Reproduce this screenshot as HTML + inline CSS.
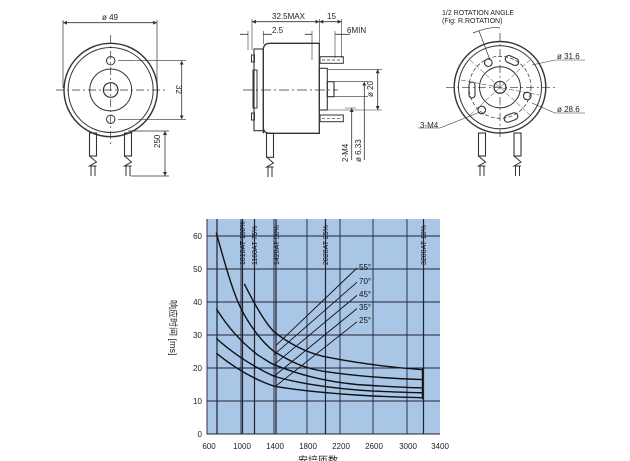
<!DOCTYPE html>
<html><head><meta charset="utf-8"><style>
body{margin:0;background:#fff;}
svg{display:block;font-family:"Liberation Sans","Noto Sans CJK SC",sans-serif;}
</style></head><body>
<svg width="630" height="461" viewBox="0 0 630 461" xmlns="http://www.w3.org/2000/svg">
<defs>
<marker id="a" viewBox="0 0 6 6" refX="6" refY="3" markerWidth="5" markerHeight="5" orient="auto-start-reverse"><path d="M0,0 L6,3 L0,6z" fill="#333"/></marker>
</defs>
<g stroke="#333" fill="none" stroke-width="1">
<!-- LEFT VIEW -->
<circle cx="110.7" cy="90" r="46.7" stroke-width="1.4"/>
<circle cx="110.7" cy="90" r="42.5"/>
<circle cx="110.7" cy="90" r="21"/>
<circle cx="110.7" cy="90" r="7.3" stroke-width="1.2"/>
<circle cx="110.7" cy="60.7" r="4.2"/>
<circle cx="110.7" cy="119.3" r="4.2"/>
<path d="M56,90H165M110.7,35V145" stroke-dasharray="8,3,2,3" stroke-width="0.7"/>
<path d="M63,20V88M157,20V88M118,60.7H186M118,119.3H186M128,131H169M131,176H169" stroke-width="0.7"/>
<path d="M63,22.7H157" marker-start="url(#a)" marker-end="url(#a)" stroke-width="0.8"/>
<path d="M181.7,60.7V119.3" marker-start="url(#a)" marker-end="url(#a)" stroke-width="0.8"/>
<path d="M165,131V176" marker-start="url(#a)" marker-end="url(#a)" stroke-width="0.8"/>
<rect x="89.5" y="133" width="7" height="23" stroke-width="1.1"/>
<rect x="124.5" y="133" width="7" height="23" stroke-width="1.1"/>
<path d="M89.5,156l7,6l-7,4l7,0M124.5,156l7,6l-7,4l7,0"/>
<path d="M91,166V176M95,166V176M126,166V176M130,166V176"/>
<!-- MIDDLE VIEW -->
<path d="M263.3,133.3V50Q263.3,43.3 270,43.3H319.3V133.3H270Q263.3,133.3 263.3,127z" stroke-width="1.3"/>
<rect x="254" y="49" width="9.3" height="81.7" stroke-width="1.1"/>
<rect x="253" y="70" width="4" height="38"/>
<rect x="251.5" y="55" width="3" height="7"/>
<rect x="251.5" y="113" width="3" height="7"/>
<rect x="319.3" y="68.3" width="8" height="41.7" stroke-width="1.1"/>
<rect x="327.3" y="81.7" width="6.7" height="15" stroke-width="1.1"/>
<rect x="320" y="56.7" width="23.3" height="6.6"/>
<rect x="320" y="115" width="23.3" height="6.7"/>
<path d="M322,60H342M322,118.3H342" stroke-dasharray="3,2" stroke-width="0.7"/>
<path d="M243,90H338" stroke-dasharray="10,3,2,3" stroke-width="0.7"/>
<path d="M252,19V50M319.3,19V44M341.5,19V58M248,31V50M263.3,31V44M335,31V58M312,31V60" stroke-width="0.6"/>
<path d="M252,21.7H319.3" marker-start="url(#a)" marker-end="url(#a)" stroke-width="0.8"/>
<path d="M319.3,21.7H341.5" marker-start="url(#a)" marker-end="url(#a)" stroke-width="0.8"/>
<path d="M240,34.3H248M263.3,34.3H272" stroke-width="0.8"/>
<path d="M305,34.3H312M335,34.3H350" stroke-width="0.8"/>
<path d="M328,69.3H382M334,81.7H368M334,96.7H368M328,110H382M345,108H356" stroke-width="0.6"/>
<path d="M377.7,69.3V110" marker-start="url(#a)" marker-end="url(#a)" stroke-width="0.8"/>
<path d="M364.3,81.7V160" marker-start="url(#a)" stroke-width="0.8"/>
<path d="M351.7,108V160" marker-start="url(#a)" stroke-width="0.8"/>
<rect x="266.5" y="133.3" width="7" height="24" stroke-width="1.1"/>
<path d="M266.5,157l7,6l-7,4l7,0M268,167V177M272,167V177"/>
<!-- RIGHT VIEW -->
<circle cx="500" cy="87.3" r="45.8" stroke-width="1.4"/>
<circle cx="500" cy="87.3" r="41.5"/>
<circle cx="500" cy="87.3" r="31" stroke-dasharray="4,2" stroke-width="0.7"/>
<circle cx="500" cy="87.3" r="20.5"/>
<circle cx="500" cy="87.3" r="6" stroke-width="1.2"/>
<path d="M446,87.3H556M500,33V140" stroke-dasharray="8,3,2,3" stroke-width="0.7"/>
<path d="M470,60L530,115M470,115L530,60M461,80L539,95" stroke-width="0.5" stroke-dasharray="5,2"/>
<g stroke-width="1.1">
<rect x="505" y="57" width="14" height="7" rx="3.5" transform="rotate(25 512 60.5)"/>
<rect x="469" y="82" width="6" height="16" rx="3"/>
<rect x="504" y="114" width="14" height="7" rx="3.5" transform="rotate(-20 511 117.5)"/>
<circle cx="488.3" cy="62.7" r="3.8"/>
<circle cx="527.3" cy="96" r="3.8"/>
<circle cx="481.7" cy="110" r="3.8"/>
</g>
<path d="M473,33Q490,26 500,28M479,31L490,60" stroke-width="0.7"/>
<path d="M555,60H585M532,65L555,60M555,113H585M532,103L555,113M418,128H440L480,112" stroke-width="0.6"/>
<rect x="478.5" y="133" width="7" height="23" stroke-width="1.1"/>
<rect x="514" y="133" width="7" height="23" stroke-width="1.1"/>
<path d="M478.5,156l7,6l-7,4l7,0M514,156l7,6l-7,4l7,0M480,166V176M484,166V176M515.5,166V176M519.5,166V176"/>
</g>
<g font-size="8" fill="#222">
<text x="102" y="20">ø 49</text>
<text x="272" y="19">32.5MAX</text>
<text x="327" y="19">15</text>
<text x="272" y="33">2.5</text>
<text x="347" y="33">6MIN</text>
<text x="442" y="15" font-size="7">1/2 ROTATION ANGLE</text>
<text x="442" y="23" font-size="7">(Fig: R.ROTATION)</text>
<text x="557" y="59">ø 31.6</text>
<text x="557" y="112">ø 28.6</text>
<text x="420" y="128">3-M4</text>
<text transform="translate(176,85) rotate(90)">32</text>
<text transform="translate(160,148) rotate(-90)">250</text>
<text transform="translate(373,97) rotate(-90)">ø 20</text>
<text transform="translate(348,162) rotate(-90)">2-M4</text>
<text transform="translate(361,162) rotate(-90)">ø 6.33</text>
</g>
<!-- CHART -->
<rect x="207" y="219" width="233" height="215" fill="#a9c6e6"/>
<g stroke="#223" stroke-width="0.9" fill="none">
<path d="M207,401H440M207,368H440M207,335H440M207,302H440M207,269H440M207,236H440"/>
<path d="M241,219V434M274,219V434M307,219V434M340,219V434M373,219V434M407,219V434"/>
<path d="M217,219V434M242.5,219V434M254.5,219V434M276,219V434M325.5,219V434M423.5,219V434" stroke-width="1.2"/>
<path d="M207,219V434H440"/>
</g>
<g fill="none" stroke="#111" stroke-width="1.4">
<path d="M216.25,232.7 C224.5,262.4 232.75,292.1 241,308.6 C249.25,325.1 261.6,341.6 274,351.5 C290.5,361.4 302.9,368 323.5,371.3 C356.5,376.25 389.5,378.6 422.5,379.55"/>
<path d="M244.3,283.85 C253.4,302 264.1,321.8 274,331.7 C286.4,341.6 302.9,351.5 323.5,356.45 C356.5,363.05 389.5,367.3 422.5,369.65"/>
<path d="M216.25,308.6 C228.6,328.4 241,341.6 257.5,354.8 C265.75,359.75 269.9,363.05 274,364.7 C298.75,374.6 323.5,381.2 356.5,384.5 C389.5,386.8 406,387.8 422.5,387.8"/>
<path d="M216.25,338.3 C228.6,349.85 249.25,364.7 274,376.25 C298.75,383.5 331.75,388.5 373,391.1 C397.75,392.1 414.25,392.75 422.5,392.75"/>
<path d="M216.25,353.15 C228.6,363.05 249.25,377.9 274,386.15 C298.75,390.4 331.75,393.7 373,396 C397.75,397 414.25,397.7 422.5,397.7"/>
<path d="M422.5,399.3V368"/>
</g>
<g fill="none" stroke="#111" stroke-width="0.9">
<path d="M276.5,344.9L357,268M274,354.8L357,282.2M274,364.7L357,295.4M274,376.25L357,308.6M275.7,386.15L357,321.8"/>
</g>
<g font-size="8" fill="#111">
<text x="359" y="270">55°</text>
<text x="359" y="284">70°</text>
<text x="359" y="297">45°</text>
<text x="359" y="310">35°</text>
<text x="359" y="323">25°</text>
</g>
<g font-size="7" fill="#111">
<text transform="translate(245,265) rotate(-90)">1010AT 100%</text>
<text transform="translate(257,265) rotate(-90)">1160AT  75%</text>
<text transform="translate(279,265) rotate(-90)">1420AT  50%</text>
<text transform="translate(328,265) rotate(-90)">2020AT  25%</text>
<text transform="translate(426,265) rotate(-90)">3200AT  10%</text>
</g>
<g font-size="8" fill="#222" text-anchor="end">
<text x="202" y="239">60</text>
<text x="202" y="272">50</text>
<text x="202" y="305">40</text>
<text x="202" y="338">30</text>
<text x="202" y="371">20</text>
<text x="202" y="404">10</text>
<text x="202" y="437">0</text>
</g>
<g font-size="8" fill="#222" text-anchor="middle">
<text x="209" y="449">600</text>
<text x="242" y="449">1000</text>
<text x="275" y="449">1400</text>
<text x="308" y="449">1800</text>
<text x="341" y="449">2200</text>
<text x="374" y="449">2600</text>
<text x="408" y="449">3000</text>
<text x="440" y="449">3400</text>
<text x="318" y="464" font-size="10">安培匝数</text>
</g>
<text transform="translate(170,300) rotate(90)" font-size="9" fill="#222">响应时间 [ms]</text>
</svg>
</body></html>
